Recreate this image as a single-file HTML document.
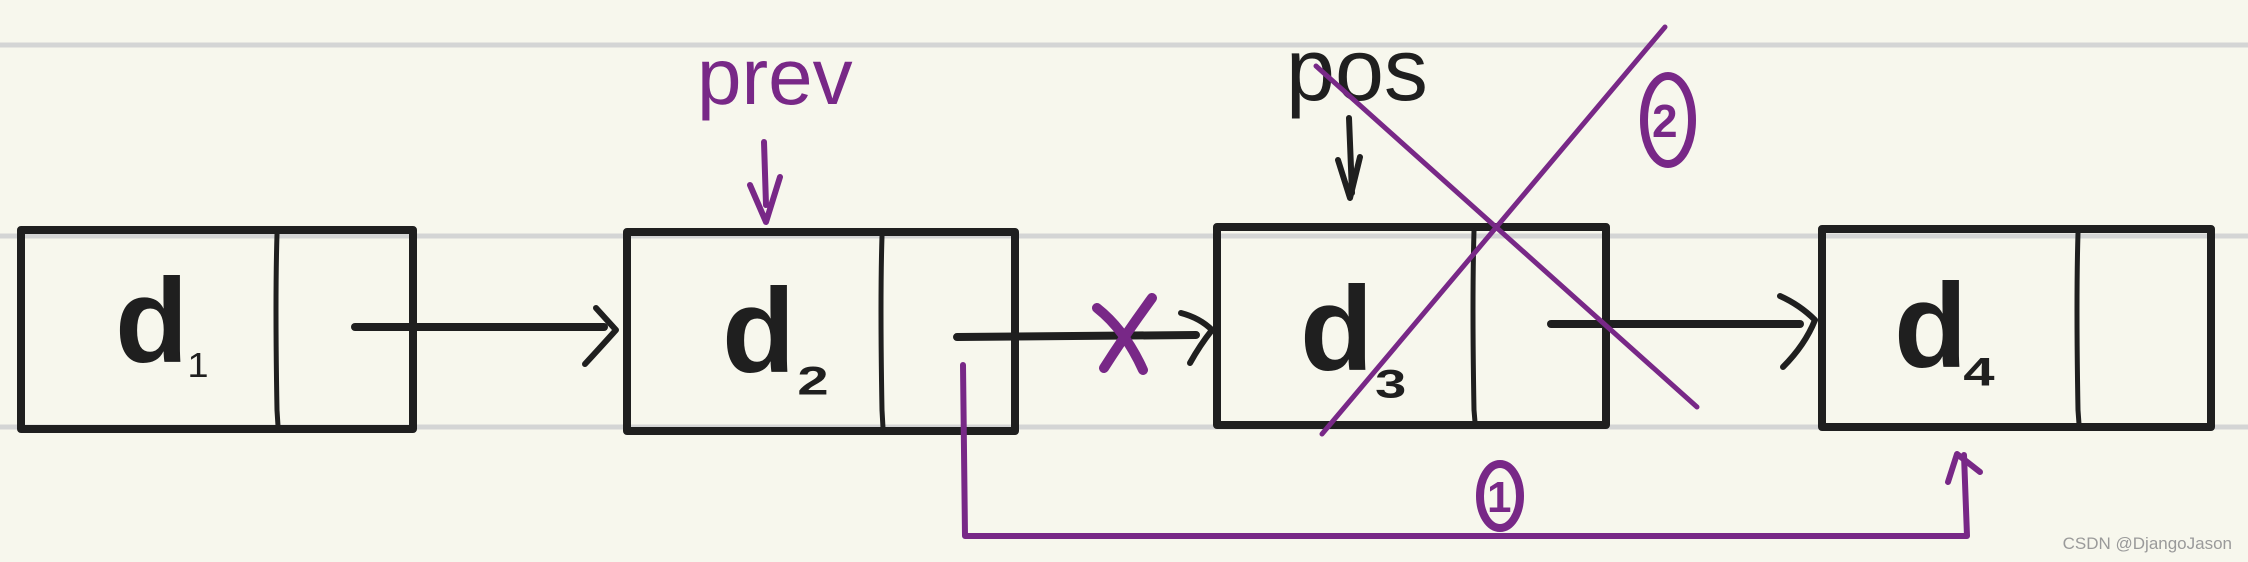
<!DOCTYPE html>
<html><head><meta charset="utf-8"><style>
html,body{margin:0;padding:0;background:#f7f7ed;}
svg{display:block}
text{font-family:"Liberation Sans",sans-serif;}
</style></head><body>
<svg width="2248" height="562" viewBox="0 0 2248 562" xmlns="http://www.w3.org/2000/svg">
<rect width="2248" height="562" fill="#f7f7ed"/>
<g stroke="#d4d5d5" stroke-width="5">
<line x1="0" y1="45" x2="2248" y2="45"/>
<line x1="0" y1="236" x2="2248" y2="236"/>
<line x1="0" y1="427" x2="2248" y2="427"/>
</g>
<g fill="none" stroke="#1f1f1f" stroke-width="8" stroke-linejoin="round">
<rect x="21" y="230" width="392" height="199"/>
<rect x="627" y="232" width="388" height="199"/>
<rect x="1217" y="227" width="389" height="198"/>
<rect x="1822" y="229" width="389" height="198"/>
</g>
<g stroke="#1f1f1f" stroke-width="5" stroke-linecap="round" fill="none">
<path d="M277 234 Q275 300 277 410 L278 426"/>
<path d="M882 236 Q880 300 882 410 L883 428"/>
<path d="M1474 231 Q1472 300 1474 410 L1475 422"/>
<path d="M2078 233 Q2076 300 2078 410 L2079 424"/>
</g>
<g stroke="#1f1f1f" stroke-width="8" stroke-linecap="round" fill="none">
<line x1="355" y1="327" x2="604" y2="327"/>
<line x1="957" y1="337" x2="1196" y2="335"/>
<line x1="1551" y1="324" x2="1800" y2="324"/>
</g>
<g stroke="#1f1f1f" stroke-width="6" stroke-linecap="round" stroke-linejoin="round" fill="none">
<path d="M596 308 L616 330 Q598 350 585 364"/>
<path d="M1181 313 Q1200 318 1212 330 Q1200 345 1190 363"/>
<path d="M1780 296 Q1800 305 1815 320 Q1805 345 1783 367"/>
</g>
<g fill="#1f1f1f" font-size="120" font-weight="bold">
<text x="115" y="362">d</text><text x="188" y="372" font-size="60" font-weight="normal">₁</text>
<text x="722" y="372">d</text><text x="795" y="392" font-size="80">₂</text>
<text x="1300" y="370">d</text><text x="1372" y="395" font-size="80">₃</text>
<text x="1894" y="367">d</text><text x="1960" y="383" font-size="80">₄</text>
<text x="1286" y="100" font-size="88" font-weight="normal">pos</text>
</g>
<path d="M1349 118 L1352 193 M1338 160 L1350 198 L1360 157" stroke="#1f1f1f" stroke-width="6" fill="none" stroke-linecap="round" stroke-linejoin="round"/>
<g stroke="#782887" stroke-linecap="round" stroke-linejoin="round" fill="none">
<path d="M963 365 L965 536 L1967 536 L1964 455" stroke-width="6"/>
<path d="M1948 482 L1957 454 L1980 472" stroke-width="6"/>
<path d="M764 142 L766 205 M750 185 L766 222 L780 177" stroke-width="6"/>
<line x1="1316" y1="66" x2="1697" y2="407" stroke-width="5"/>
<line x1="1665" y1="27" x2="1322" y2="434" stroke-width="5"/>
<path d="M1097 308 Q1125 330 1143 370 M1152 298 Q1125 335 1104 368" stroke-width="10"/>
<ellipse cx="1668" cy="120" rx="24" ry="44" stroke-width="8"/>
<ellipse cx="1500" cy="496" rx="20" ry="32" stroke-width="8"/>
</g>
<g fill="#782887">
<text x="697" y="104" font-size="80">prev</text>
<text x="1652" y="137" font-size="46" font-weight="bold">2</text>
<text x="1487" y="512" font-size="44" font-weight="bold">1</text>
</g>
<text x="2232" y="549" font-size="17" fill="#9a9a9a" text-anchor="end">CSDN @DjangoJason</text>
</svg>
</body></html>
